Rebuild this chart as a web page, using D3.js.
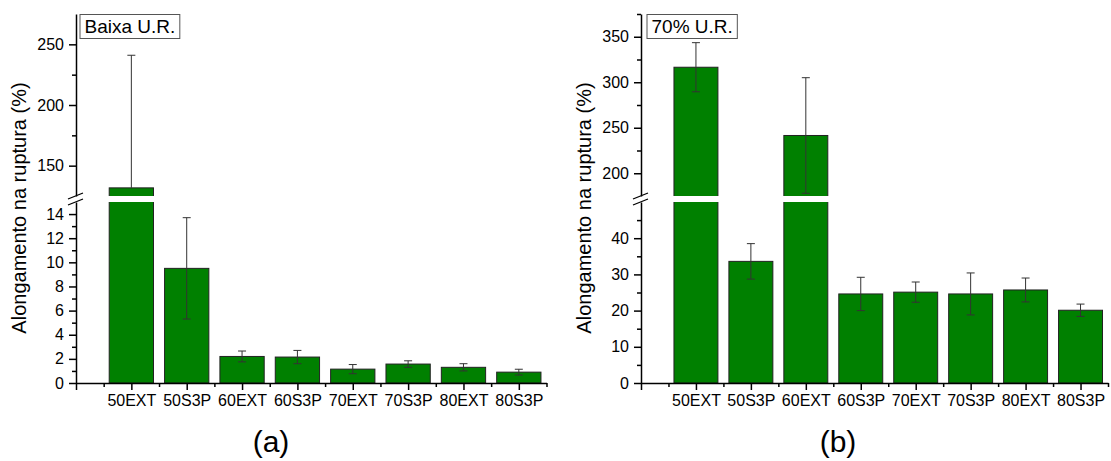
<!DOCTYPE html>
<html>
<head>
<meta charset="utf-8">
<script src="https://cdn.jsdelivr.net/npm/d3@7"></script>
<style>
body { margin: 0; background: #fff; }
svg { font-family: "Liberation Sans", Arial, sans-serif; }
</style>
</head>
<body>
<div id="chart"></div>
<script>

var categories = ["50EXT", "50S3P", "60EXT", "60S3P", "70EXT", "70S3P", "80EXT", "80S3P"];

// (a) baixa U.R.
var valuesA   = [131.7, 9.5, 2.2, 2.15, 1.15, 1.57, 1.3, 0.9];
var errPlusA  = [109.3, 4.2, 0.45, 0.55, 0.38, 0.27, 0.3, 0.24];
var errMinusA = [0, 4.2, 0.45, 0.55, 0.38, 0.27, 0.3, 0.24];

// (b) 70% U.R.
var valuesB   = [316.5, 33.6, 241.5, 24.6, 25.1, 24.6, 25.7, 20.1];
var errPlusB  = [27, 4.9, 63.5, 4.6, 2.8, 5.8, 3.3, 1.7];
var errMinusB = [27, 4.9, 63.5, 4.6, 2.8, 5.8, 3.3, 1.7];

// axis segments (lower / upper part of the broken axis)
var lowDomainA = [0, 15],    lowMajorA = [0, 2, 4, 6, 8, 10, 12, 14], lowMinorA = [1, 3, 5, 7, 9, 11, 13];
var highDomainA = [125, 275], highMajorA = [150, 200, 250],          highMinorA = [175, 225];
var lowDomainB = [0, 50],    lowMajorB = [0, 10, 20, 30, 40],        lowMinorB = [5, 15, 25, 35, 45];
var highDomainB = [175, 375], highMajorB = [200, 250, 300, 350],     highMinorB = [225, 275, 325, 375];

var W = 1111, H = 461;
var yTop = 14, breakUp = 196, breakLow = 202, yBottom = 383;

var svg = d3.select("#chart").append("svg")
	.attr("width", W)
	.attr("height", H);

function drawPanel(cfg){

	var g = svg.append("g");

	var x = d3.scaleLinear()
		.domain([0, 8.5])
		.range([cfg.x0, cfg.x1]);
	var barW = x(0.8) - x(0);

	var segments = [
		{ id: "lo", domain: cfg.lowDomain, range: [yBottom, breakLow], major: cfg.lowMajor, minor: cfg.lowMinor, clip: [breakLow, yBottom + 1] },
		{ id: "hi", domain: cfg.highDomain, range: [breakUp, yTop], major: cfg.highMajor, minor: cfg.highMinor, clip: [yTop - 20, breakUp] }
	];

	segments.forEach(function(s){
		var y = d3.scaleLinear().domain(s.domain).range(s.range);
		var clipId = "clip-" + cfg.name + "-" + s.id;

		g.append("clipPath").attr("id", clipId)
			.append("rect")
			.attr("x", cfg.x0 + 1)
			.attr("y", s.clip[0])
			.attr("width", cfg.x1 - cfg.x0)
			.attr("height", s.clip[1] - s.clip[0]);

		var seg = g.append("g").attr("clip-path", "url(#" + clipId + ")");

		// bars
		seg.selectAll("rect.bar")
			.data(cfg.values)
			.enter().append("rect")
			.attr("class", "bar")
			.attr("x", function(d, i){ return x(i + 1) - barW / 2; })
			.attr("y", function(d){ return y(d); })
			.attr("width", barW)
			.attr("height", function(d){ return Math.max(0, y(0) - y(d)); })
			.attr("fill", "#008000")
			.attr("stroke", "#222")
			.attr("stroke-width", 1);

		// error bars
		cfg.values.forEach(function(v, i){
			var cx = x(i + 1);
			var hi = v + cfg.errPlus[i], lo = v - cfg.errMinus[i];
			seg.append("line")
				.attr("x1", cx).attr("x2", cx)
				.attr("y1", y(lo)).attr("y2", y(hi))
				.attr("stroke", "#333").attr("stroke-width", 1);
			if(cfg.errPlus[i] > 0){
				seg.append("line")
					.attr("x1", cx - 4).attr("x2", cx + 4)
					.attr("y1", y(hi)).attr("y2", y(hi))
					.attr("stroke", "#333").attr("stroke-width", 1);
			}
			if(cfg.errMinus[i] > 0){
				seg.append("line")
					.attr("x1", cx - 4).attr("x2", cx + 4)
					.attr("y1", y(lo)).attr("y2", y(lo))
					.attr("stroke", "#333").attr("stroke-width", 1);
			}
		});

		// y axis (major + minor)
		var ax = g.append("g")
			.attr("transform", "translate(" + cfg.x0 + ",0)")
			.call(d3.axisLeft(y).tickValues(s.major).tickSize(7).tickSizeOuter(0).tickPadding(5));
		ax.selectAll("text").attr("font-size", 16).attr("fill", "#000").attr("font-family", null);
		g.append("g")
			.attr("transform", "translate(" + cfg.x0 + ",0)")
			.call(d3.axisLeft(y).tickValues(s.minor).tickSize(4).tickFormat(""))
			.select(".domain").remove();
	});

	// break marks on the y axis
	[breakUp, breakLow].forEach(function(by){
		g.append("line")
			.attr("x1", cfg.x0 - 8).attr("y1", by + 3)
			.attr("x2", cfg.x0 + 7).attr("y2", by - 3)
			.attr("stroke", "#000").attr("stroke-width", 1.2);
	});

	// x axis
	var xa = g.append("g")
		.attr("transform", "translate(0," + yBottom + ")")
		.call(d3.axisBottom(x)
			.tickValues(d3.range(0, 9))
			.tickFormat(function(i){ return categories[i - 1] || ""; })
			.tickSize(7).tickSizeOuter(0).tickPadding(5));
	xa.selectAll("text").attr("font-size", 16).attr("fill", "#000").attr("font-family", null);
	g.append("g")
		.attr("transform", "translate(0," + yBottom + ")")
		.call(d3.axisBottom(x).tickValues(d3.range(0.5, 9, 1)).tickSize(4).tickFormat(""))
		.select(".domain").remove();

	g.selectAll(".domain, .tick line").attr("stroke", "#000").attr("stroke-width", 1.5);

	// y title
	g.append("text")
		.attr("transform", "translate(" + cfg.titleX + ",208) rotate(-90)")
		.attr("text-anchor", "middle")
		.attr("font-size", 20)
		.text("Alongamento na ruptura (%)");

	// label box
	var box = g.append("rect")
		.attr("x", cfg.x0 + cfg.boxOff)
		.attr("y", 14.5)
		.attr("height", 24)
		.attr("fill", "#fff")
		.attr("stroke", "#555")
		.attr("stroke-width", 1);
	var lbl = g.append("text")
		.attr("x", cfg.x0 + cfg.boxOff + 4.5)
		.attr("y", 33)
		.attr("font-size", 19)
		.text(cfg.label);
	box.attr("width", lbl.node().getComputedTextLength() + 9);

	// panel letter
	g.append("text")
		.attr("x", cfg.letterX)
		.attr("y", 452)
		.attr("text-anchor", "middle")
		.attr("font-size", 30)
		.text(cfg.letter);
}

drawPanel({
	name: "a", x0: 76, x1: 546.5, titleX: 26, boxOff: 4, letter: "(a)", letterX: 271, label: "Baixa U.R.",
	values: valuesA, errPlus: errPlusA, errMinus: errMinusA,
	lowDomain: lowDomainA, lowMajor: lowMajorA, lowMinor: lowMinorA,
	highDomain: highDomainA, highMajor: highMajorA, highMinor: highMinorA
});

drawPanel({
	name: "b", x0: 641, x1: 1108, titleX: 591, boxOff: 6, letter: "(b)", letterX: 838, label: "70% U.R.",
	values: valuesB, errPlus: errPlusB, errMinus: errMinusB,
	lowDomain: lowDomainB, lowMajor: lowMajorB, lowMinor: lowMinorB,
	highDomain: highDomainB, highMajor: highMajorB, highMinor: highMinorB
});

</script>
</body>
</html>
